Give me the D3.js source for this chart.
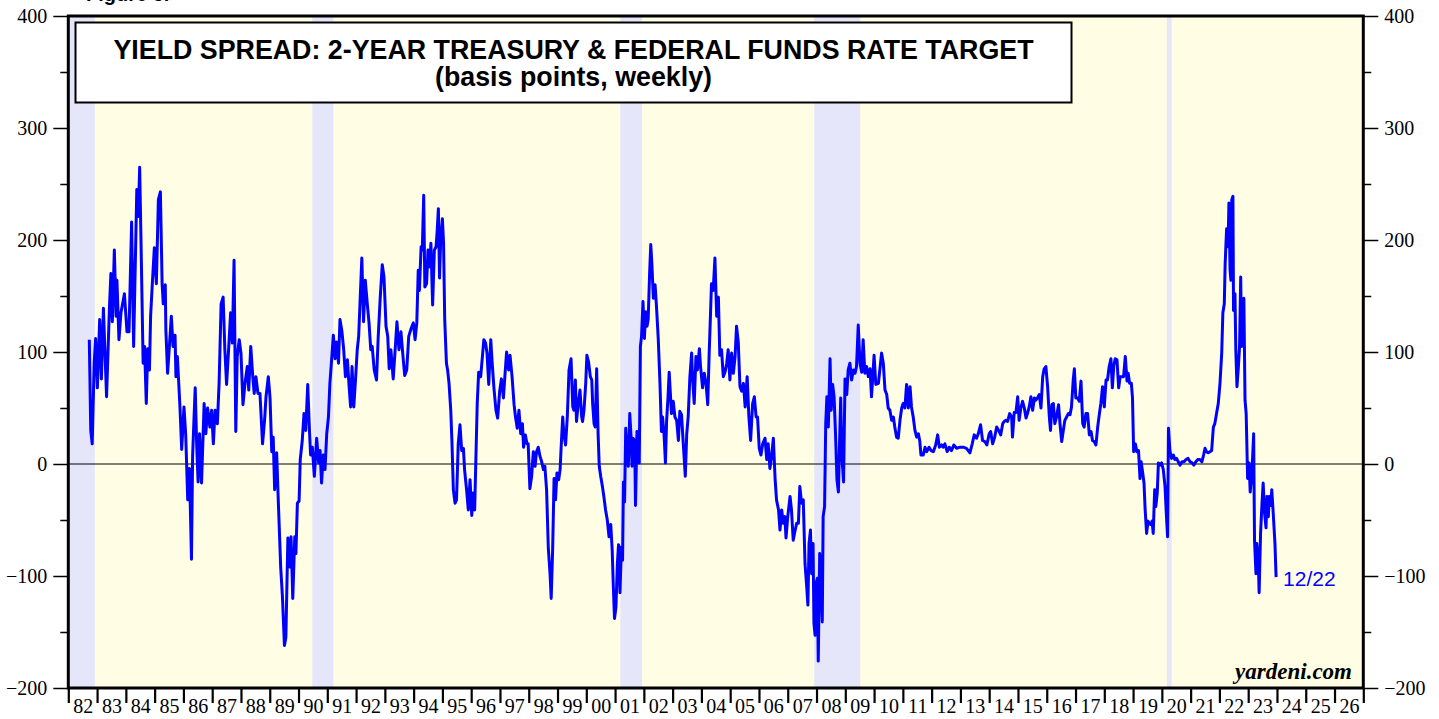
<!DOCTYPE html>
<html><head><meta charset="utf-8">
<script src="https://cdn.jsdelivr.net/npm/d3@7"></script>
<style>html,body{margin:0;padding:0;background:#fff;overflow:hidden}</style>
</head><body>
<svg id="chart" width="1439" height="719"></svg>
<script>
// ---- DATA ----
const figureLabel = "Figure 5.";
const titleLines = ["YIELD SPREAD: 2-YEAR TREASURY & FEDERAL FUNDS RATE TARGET", "(basis points, weekly)"];
const lastLabel = "12/22";
const source = "yardeni.com";
const yTicks = [-200, -100, 0, 100, 200, 300, 400];
const yMinor = [-150, -50, 50, 150, 250, 350];
const years = d3.range(1982, 2027);
const recessions = [[1981.5, 1982.92], [1990.48, 1991.21], [2001.18, 2001.94], [2007.92, 2009.52], [2020.17, 2020.34]];
const dates = [
1982.73,1982.78,1982.83,1982.90,1982.95,1983.01,1983.09,1983.15,1983.22,1983.33,1983.43,1983.48,1983.53,1983.60,1983.66,1983.69,1983.76,1983.83,1983.95,
1984.04,1984.11,1984.20,1984.27,1984.38,1984.43,1984.48,1984.53,1984.60,1984.65,1984.71,1984.76,1984.82,1984.86,1984.92,1984.99,
1985.06,1985.13,1985.20,1985.26,1985.30,1985.37,1985.39,1985.45,1985.52,1985.58,1985.64,1985.71,1985.74,1985.79,1985.88,1985.94,
1986.02,1986.08,1986.15,1986.21,1986.28,1986.32,1986.37,1986.41,1986.46,1986.51,1986.56,1986.63,1986.72,1986.78,1986.84,1986.92,1986.98,
1987.04,1987.10,1987.18,1987.24,1987.31,1987.38,1987.44,1987.50,1987.57,1987.64,1987.70,1987.76,1987.82,1987.87,1987.94,
1988.00,1988.07,1988.14,1988.22,1988.27,1988.34,1988.41,1988.46,1988.52,1988.59,1988.66,1988.75,1988.82,1988.87,1988.95,
1989.01,1989.07,1989.12,1989.17,1989.24,1989.30,1989.38,1989.44,1989.51,1989.56,1989.63,1989.70,1989.74,1989.80,1989.87,1989.91,1989.96,
1990.02,1990.06,1990.13,1990.19,1990.25,1990.32,1990.38,1990.42,1990.48,1990.55,1990.63,1990.70,1990.75,1990.80,1990.86,1990.92,1990.98,
1991.04,1991.09,1991.15,1991.21,1991.27,1991.32,1991.39,1991.44,1991.51,1991.57,1991.63,1991.70,1991.75,1991.81,1991.86,1991.92,1991.98,
1992.04,1992.09,1992.14,1992.20,1992.26,1992.32,1992.39,1992.45,1992.51,1992.56,1992.63,1992.71,1992.77,1992.84,1992.91,1992.97,
1993.04,1993.10,1993.15,1993.21,1993.29,1993.35,1993.42,1993.49,1993.56,1993.63,1993.69,1993.76,1993.83,1993.90,1993.99,
1994.05,1994.11,1994.16,1994.20,1994.26,1994.30,1994.35,1994.39,1994.45,1994.50,1994.56,1994.60,1994.66,1994.72,1994.78,1994.82,1994.86,1994.90,1994.94,
1995.00,1995.04,1995.08,1995.14,1995.18,1995.23,1995.29,1995.33,1995.38,1995.44,1995.49,1995.55,1995.61,1995.67,1995.73,1995.77,1995.84,1995.90,1995.96,
1996.02,1996.07,1996.12,1996.17,1996.21,1996.26,1996.33,1996.37,1996.44,1996.50,1996.55,1996.61,1996.68,1996.73,1996.79,1996.86,1996.92,1996.99,
1997.05,1997.12,1997.17,1997.23,1997.30,1997.35,1997.42,1997.49,1997.54,1997.60,1997.66,1997.72,1997.78,1997.82,1997.88,1997.94,1997.98,
1998.04,1998.10,1998.16,1998.22,1998.27,1998.33,1998.39,1998.45,1998.51,1998.56,1998.62,1998.68,1998.74,1998.78,1998.83,1998.88,1998.93,1998.98,
1999.04,1999.09,1999.12,1999.18,1999.22,1999.28,1999.34,1999.40,1999.47,1999.53,1999.57,1999.62,1999.66,1999.72,1999.78,1999.84,1999.87,1999.92,1999.98,
2000.02,2000.08,2000.14,2000.19,2000.22,2000.27,2000.31,2000.36,2000.41,2000.45,2000.50,2000.56,2000.61,2000.67,2000.73,2000.79,2000.85,2000.90,2000.94,2000.98,
2001.03,2001.08,2001.12,2001.17,2001.22,2001.26,2001.29,2001.33,2001.37,2001.41,2001.46,2001.51,2001.55,2001.59,2001.62,2001.68,2001.71,2001.76,2001.81,2001.84,2001.88,2001.92,2001.97,
2002.02,2002.06,2002.11,2002.15,2002.20,2002.24,2002.28,2002.33,2002.39,2002.44,2002.50,2002.56,2002.61,2002.65,2002.70,2002.75,2002.79,2002.84,2002.88,2002.96,
2003.02,2003.08,2003.14,2003.20,2003.25,2003.31,2003.37,2003.44,2003.49,2003.54,2003.60,2003.66,2003.69,2003.75,2003.81,2003.86,2003.93,2003.97,
2004.04,2004.10,2004.16,2004.22,2004.27,2004.32,2004.35,2004.41,2004.47,2004.53,2004.59,2004.64,2004.70,2004.76,2004.82,2004.88,2004.93,2004.99,
2005.05,2005.11,2005.17,2005.22,2005.28,2005.34,2005.40,2005.46,2005.52,2005.59,2005.65,2005.71,2005.78,2005.84,2005.90,2005.95,
2006.01,2006.07,2006.13,2006.21,2006.27,2006.32,2006.38,2006.44,2006.50,2006.56,2006.61,2006.68,2006.73,2006.79,2006.84,2006.90,2006.94,
2007.00,2007.08,2007.13,2007.19,2007.25,2007.31,2007.37,2007.42,2007.48,2007.54,2007.60,2007.66,2007.70,2007.74,2007.79,2007.83,2007.88,2007.91,2007.95,2007.98,
2008.03,2008.06,2008.11,2008.15,2008.20,2008.23,2008.28,2008.32,2008.36,2008.41,2008.47,2008.51,2008.56,2008.61,2008.66,2008.71,2008.76,2008.80,2008.84,2008.88,2008.94,2008.99,
2009.05,2009.10,2009.16,2009.22,2009.28,2009.34,2009.39,2009.45,2009.51,2009.57,2009.62,2009.68,2009.74,2009.80,2009.86,2009.91,
2010.00,2010.06,2010.15,2010.20,2010.26,2010.32,2010.38,2010.44,2010.49,2010.55,2010.61,2010.67,2010.72,2010.78,2010.84,2010.90,2010.96,
2011.01,2011.07,2011.13,2011.19,2011.25,2011.30,2011.36,2011.42,2011.48,2011.54,2011.59,2011.63,2011.71,2011.77,2011.83,2011.91,2011.98,
2012.06,2012.14,2012.21,2012.27,2012.35,2012.40,2012.46,2012.54,2012.61,2012.69,2012.77,2012.87,2012.98,
2013.10,2013.21,2013.33,2013.41,2013.48,2013.56,2013.62,2013.70,2013.77,2013.85,2013.92,
2014.00,2014.05,2014.12,2014.19,2014.26,2014.33,2014.40,2014.47,2014.52,2014.58,2014.64,2014.71,2014.78,2014.81,2014.87,2014.93,2014.99,
2015.04,2015.10,2015.16,2015.22,2015.28,2015.33,2015.39,2015.45,2015.51,2015.57,2015.62,2015.68,2015.74,2015.80,2015.86,2015.91,2015.97,
2016.03,2016.09,2016.13,2016.18,2016.23,2016.28,2016.34,2016.41,2016.46,2016.52,2016.57,2016.63,2016.69,2016.75,2016.81,2016.86,2016.92,2016.96,
2017.01,2017.07,2017.13,2017.19,2017.25,2017.30,2017.36,2017.42,2017.48,2017.54,2017.59,2017.65,2017.71,2017.77,2017.83,2017.88,2017.94,
2018.00,2018.06,2018.11,2018.17,2018.23,2018.28,2018.33,2018.38,2018.44,2018.50,2018.55,2018.61,2018.67,2018.73,2018.79,2018.83,2018.88,2018.94,2018.98,
2019.02,2019.08,2019.13,2019.19,2019.24,2019.28,2019.33,2019.38,2019.42,2019.47,2019.52,2019.56,2019.61,2019.66,2019.70,2019.75,2019.79,2019.84,2019.88,2019.93,2019.99,
2020.05,2020.11,2020.16,2020.20,2020.23,2020.28,2020.34,2020.40,2020.45,2020.51,2020.57,2020.63,2020.70,2020.77,2020.84,2020.91,2020.98,
2021.05,2021.11,2021.18,2021.25,2021.32,2021.39,2021.45,2021.50,2021.55,2021.61,2021.67,2021.73,2021.79,2021.84,2021.90,2021.96,
2022.02,2022.08,2022.12,2022.17,2022.20,2022.25,2022.30,2022.33,2022.37,2022.40,2022.43,2022.47,2022.49,2022.54,2022.57,2022.61,2022.66,2022.70,2022.74,2022.77,2022.82,2022.85,2022.89,2022.93,2022.98,
2023.03,2023.07,2023.12,2023.15,2023.19,2023.22,2023.27,2023.30,2023.35,2023.38,2023.43,2023.48,2023.52,2023.57,2023.62,2023.65,2023.70,2023.73,2023.78,2023.82,2023.87,2023.93,2023.97
];
const spread = [
111,30,18,90,112,68,129,76,139,60,140,170,127,191,132,164,111,135,152,
118,118,216,105,245,221,265,194,90,105,54,103,84,132,161,193,
161,236,243,161,143,160,120,81,108,132,105,115,78,96,51,13,
51,26,-32,-4,-85,7,42,68,18,-16,27,-17,54,27,50,33,48,
18,48,36,72,143,149,102,71,102,135,108,182,29,96,111,
99,53,72,87,66,105,78,63,78,63,63,18,39,60,78,
59,11,24,-23,10,-35,-92,-118,-162,-155,-66,-92,-65,-120,-65,-80,-35,
-33,4,21,45,30,71,30,8,15,-11,23,1,12,-17,8,-5,27,
42,72,93,115,94,109,90,129,118,102,78,93,72,51,87,51,75,
102,114,146,184,127,164,143,126,102,105,84,75,114,149,178,167,
123,114,85,102,76,99,127,102,118,96,79,84,114,120,126,
111,126,173,155,194,191,240,158,161,191,176,197,142,191,194,209,228,166,200,
219,197,129,90,84,72,48,21,-23,-35,-32,18,35,12,14,-5,-23,-41,-14,
-46,-26,-41,12,54,82,78,90,111,108,99,71,111,90,68,48,41,65,
76,59,78,100,84,97,78,53,42,32,48,27,36,15,26,18,18,
-22,-11,11,-2,11,15,7,2,-5,-2,-23,-75,-98,-120,-77,-13,-32,-8,
-14,-5,12,42,27,17,42,84,94,51,48,75,38,54,66,42,38,48,72,
97,91,78,75,54,36,33,85,27,-2,-11,-20,-29,-41,-50,-65,-54,-77,-110,-138,
-128,-89,-72,-115,-74,-86,-16,-34,32,10,-2,45,27,-2,23,21,-37,29,4,1,105,114,145,
112,136,123,129,170,196,178,148,160,140,112,72,29,42,27,1,38,60,82,45,
56,42,39,21,47,44,18,-11,27,42,78,99,78,54,96,84,103,87,
68,81,72,53,99,137,161,155,184,132,149,97,102,78,82,90,102,75,
99,81,96,123,109,69,65,72,51,78,42,21,54,60,42,42,
14,8,18,23,4,18,-4,7,23,-13,-32,-41,-59,-41,-53,-47,-66,
-47,-29,-41,-68,-60,-53,-53,-20,-35,-32,-89,-110,-126,-71,-59,-98,-71,-142,-153,-107,
-102,-176,-80,-101,-141,-47,-38,36,60,33,94,48,71,60,27,-14,-25,18,59,7,-16,76,
62,84,90,75,84,81,87,124,90,82,111,81,87,78,85,60,
97,71,72,84,99,90,66,62,50,48,39,42,33,24,23,39,50,
54,50,71,50,69,51,42,30,24,27,20,8,8,15,11,15,12,
11,17,26,15,17,15,18,11,15,12,17,14,15,
15,14,10,18,26,23,27,35,21,20,17,
27,29,18,24,33,30,26,36,38,39,38,45,42,24,46,46,60,
39,50,56,50,41,45,51,60,48,59,57,59,62,50,78,85,87,
69,42,30,53,54,36,42,53,36,20,29,39,42,45,44,51,75,85,
59,59,56,74,36,33,45,45,26,29,21,20,17,33,45,54,69,
51,75,75,87,94,68,88,94,93,68,78,78,78,96,74,81,72,72,59,
11,18,11,12,-13,2,-7,-17,-41,-62,-51,-53,-54,-51,-62,-23,-38,-26,1,-1,1,
-5,-20,-47,-65,32,12,5,8,4,5,2,-1,2,2,4,5,2,
1,-1,2,4,4,2,8,14,11,10,11,12,33,36,45,54,
72,99,135,143,179,210,194,233,173,164,236,239,137,152,102,69,87,105,167,105,108,148,57,45,-13,
1,-25,-11,4,27,-68,-98,-71,-86,-115,-62,-35,-17,-44,-57,-29,-47,-29,-37,-23,-44,-71,-101
];

// ---- CHART ----
const svg = d3.select("#chart");
const L = 68.3, R = 1363.3, T = 16, B = 688;
const x = d3.scaleLinear().domain([1982, 2027]).range([L, R]);
const y = d3.scaleLinear().domain([-200, 400]).range([B, T]);
const sans = "Liberation Sans, Arial, sans-serif";
const serif = "Liberation Serif, Times New Roman, serif";

// figure label (clipped at top edge, as in the reference)
svg.append("text").attr("x", 86).attr("y", 1)
  .attr("font-family", sans).attr("font-weight", "bold").attr("font-size", "20px")
  .attr("fill", "#000").text(figureLabel);

// plot background
svg.append("rect").attr("x", L).attr("y", T).attr("width", R - L).attr("height", B - T).attr("fill", "#FFFEE4");
// recession bands
svg.append("g").selectAll("rect").data(recessions).join("rect")
  .attr("x", d => x(Math.max(1982, d[0])))
  .attr("y", T)
  .attr("width", d => x(d[1]) - x(Math.max(1982, d[0])))
  .attr("height", B - T)
  .attr("fill", "#E6E6FA");

// title box
const tb = svg.append("g");
tb.append("rect").attr("x", 75.5).attr("y", 22.5).attr("width", 996).attr("height", 80)
  .attr("fill", "#fff").attr("stroke", "#000").attr("stroke-width", 2);
const tt = tb.append("text")
  .attr("text-anchor", "middle")
  .attr("font-family", sans)
  .attr("font-weight", "bold")
  .attr("font-size", "26.8px")
  .attr("fill", "#000");
tt.selectAll("tspan").data(titleLines).join("tspan")
  .attr("x", 573.5).attr("y", (d, i) => i === 0 ? 59 : 86)
  .text(d => d);

// zero line
svg.append("line").attr("x1", L).attr("x2", R).attr("y1", y(0)).attr("y2", y(0))
  .attr("stroke", "#000").attr("stroke-width", 1.2);

// series line
const series = dates.map((d, i) => ({ t: d, v: spread[i] }));
const line = d3.line().x(d => x(d.t)).y(d => y(d.v));
svg.append("path").datum(series).attr("d", line)
  .attr("fill", "none").attr("stroke", "#0000FF").attr("stroke-width", 3)
  .attr("stroke-linejoin", "round");

// last value label
const last = series[series.length - 1];
svg.append("text").attr("x", x(last.t) + 7).attr("y", y(last.v) + 9)
  .attr("font-family", sans).attr("font-size", "21px")
  .attr("fill", "#0000FF").text(lastLabel);

// source
svg.append("text").attr("x", 1352).attr("y", 679).attr("text-anchor", "end")
  .attr("font-family", serif).attr("font-size", "23px")
  .attr("font-weight", "bold").attr("font-style", "italic").attr("fill", "#000").text(source);

// axes
function styleAxis(g, sw) {
  g.select(".domain").remove();
  g.selectAll(".tick line").attr("stroke", "#000").attr("stroke-width", sw);
  g.selectAll(".tick text").attr("font-family", serif).attr("font-size", "20px").attr("fill", "#000");
}
const yl = svg.append("g").attr("transform", `translate(${L},0)`)
  .call(d3.axisLeft(y).tickValues(yTicks).tickSize(15).tickPadding(6).tickFormat(d3.format("d")));
styleAxis(yl, 1.5);
const ylm = svg.append("g").attr("transform", `translate(${L},0)`)
  .call(d3.axisLeft(y).tickValues(yMinor).tickSize(8).tickFormat(""));
styleAxis(ylm, 1.5);
const yr = svg.append("g").attr("transform", `translate(${R},0)`)
  .call(d3.axisRight(y).tickValues(yTicks).tickSize(15).tickPadding(6).tickFormat(d3.format("d")));
styleAxis(yr, 1.5);
const yrm = svg.append("g").attr("transform", `translate(${R},0)`)
  .call(d3.axisRight(y).tickValues(yMinor).tickSize(8).tickFormat(""));
styleAxis(yrm, 1.5);

const xb = svg.append("g").attr("transform", `translate(0,${B})`)
  .call(d3.axisBottom(x).tickValues(d3.range(1982, 2028)).tickSize(15).tickFormat(""));
styleAxis(xb, 2.2);
const xl = svg.append("g").attr("transform", `translate(0,${B})`)
  .call(d3.axisBottom(x).tickValues(years.map(v => v + 0.5)).tickSize(0).tickPadding(11)
    .tickFormat(d => String(Math.floor(d) % 100).padStart(2, "0")));
styleAxis(xl, 0);

// frame
svg.append("rect").attr("x", L).attr("y", T).attr("width", R - L).attr("height", B - T)
  .attr("fill", "none").attr("stroke", "#000").attr("stroke-width", 3);
</script>
</body></html>
